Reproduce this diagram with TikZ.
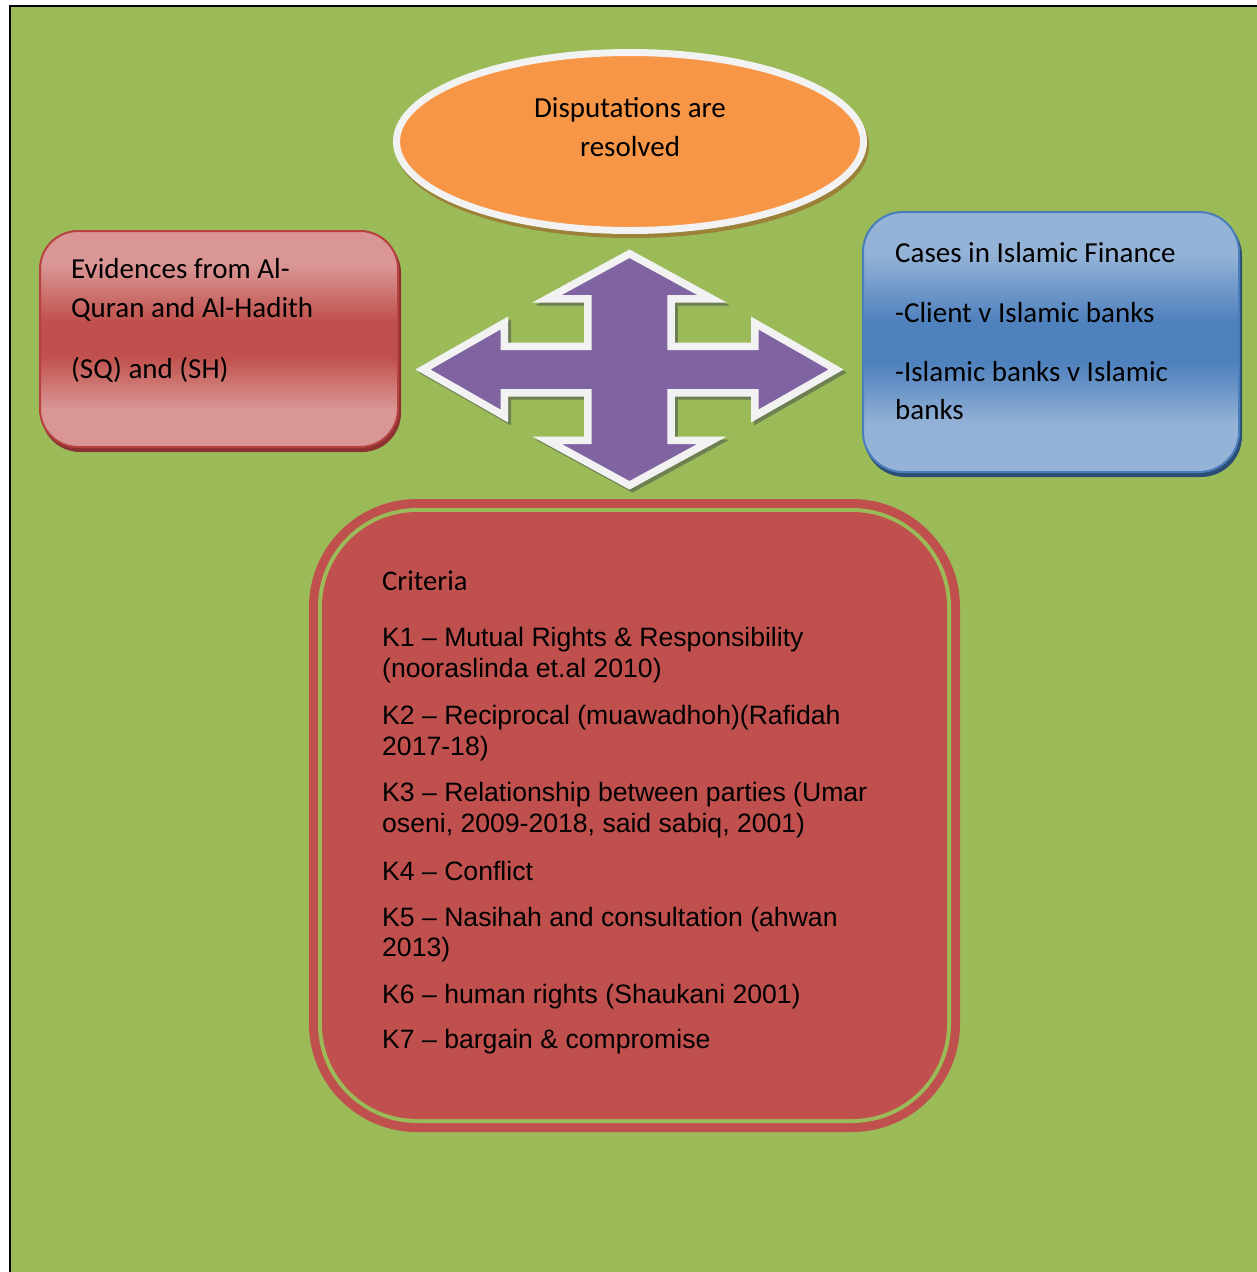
\documentclass[tikz,border=0pt]{standalone}
\usepackage{fontspec}
\setmainfont{Carlito}
\newfontfamily\arialf{Liberation Sans}
\usetikzlibrary{shapes.geometric}
\definecolor{bggreen}{HTML}{9BBB59}
\definecolor{orng}{HTML}{F79646}
\definecolor{eshadow}{HTML}{9C8238}
\definecolor{redmid}{HTML}{C0504D}
\definecolor{redlight}{HTML}{D99694}
\definecolor{redline}{HTML}{B7413E}
\definecolor{redshadow}{HTML}{8C3331}
\definecolor{bluemid}{HTML}{4F81BD}
\definecolor{bluelight}{HTML}{95B3D7}
\definecolor{blueline}{HTML}{4A7EBB}
\definecolor{blueshadow}{HTML}{2C4D75}
\definecolor{purp}{HTML}{8064A2}
\definecolor{arrwhite}{HTML}{F2F2F2}
\definecolor{arrshadow}{HTML}{6E7F52}
\pgfdeclareverticalshading{redgrad}{100bp}{color(0bp)=(redlight); color(34bp)=(redlight); color(46bp)=(redmid); color(54bp)=(redmid); color(67bp)=(redlight); color(100bp)=(redlight)}
\pgfdeclareverticalshading{bluegrad}{100bp}{color(0bp)=(bluelight); color(34bp)=(bluelight); color(46bp)=(bluemid); color(54bp)=(bluemid); color(67bp)=(bluelight); color(100bp)=(bluelight)}
\tikzset{
  calib/.style={font=\fontsize{29}{35}\selectfont, inner sep=0pt, anchor=base west, text=black},
  calibc/.style={calib, anchor=base},
  arl/.style={font=\arialf\fontsize{26.6}{31}\selectfont, inner sep=0pt, anchor=base west, text=black},
  crit/.style={font=\fontsize{28.5}{34}\selectfont, inner sep=0pt, anchor=base west, text=black},
  qarrowpath/.style={insert path={(0,-115.8) -- (82.5,-70.75) -- (41.55,-70.75) -- (41.55,-23.25) -- (125.25,-23.25) -- (125.25,-46.5) -- (206.6,0) -- (125.25,46.5) -- (125.25,23.25) -- (41.55,23.25) -- (41.55,70.75) -- (82.5,70.75) -- (0,115.8) -- (-82.5,70.75) -- (-41.55,70.75) -- (-41.55,23.25) -- (-125.25,23.25) -- (-125.25,46.5) -- (-206.6,0) -- (-125.25,-46.5) -- (-125.25,-23.25) -- (-41.55,-23.25) -- (-41.55,-70.75) -- (-82.5,-70.75) -- cycle}},
  rbox/.style={rectangle, inner sep=0pt, outer sep=0pt}
}
\begin{document}
\begin{tikzpicture}[x=1pt,y=-1pt]
\useasboundingbox (0,0) rectangle (1257,1272);
\fill[white] (0,0) rectangle (1257,1272);
\fill[bggreen] (10,6) rectangle (1257,1272);
\draw[black, line width=2pt] (10,1272) -- (10,6) -- (1257,6);

% ellipse
\node[ellipse, inner sep=0pt, minimum width=467pt, minimum height=178pt, fill=eshadow, draw=eshadow, line width=7pt] (dissh) at (632,145.5) {};
\node[ellipse, inner sep=0pt, minimum width=467pt, minimum height=178pt, fill=orng, draw=arrwhite, line width=7pt] (dis) at (630,141.5) {};
\node[calibc] (dis1) at (630,117) {Disputations are};
\node[calibc] (dis2) at (630,156) {resolved};

% left box
\node[rbox, rounded corners=38pt, minimum width=358pt, minimum height=216pt, fill=redshadow, draw=redshadow, line width=2pt] (evsh) at (221,343) {};
\node[rbox, rounded corners=38pt, minimum width=358pt, minimum height=216pt, shading=redgrad, draw=redline, line width=2pt] (ev) at (219,339) {};
\node[calib] (ev1) at (71,278) {Evidences from Al-};
\node[calib] (ev2) at (71,317) {Quran and Al-Hadith};
\node[calib] (ev3) at (71,378) {(SQ) and (SH)};

% right box
\node[rbox, rounded corners=40pt, minimum width=376pt, minimum height=260pt, fill=blueshadow, draw=blueshadow, line width=2pt] (cssh) at (1053,346) {};
\node[rbox, rounded corners=40pt, minimum width=376pt, minimum height=260pt, shading=bluegrad, draw=blueline, line width=2pt] (cs) at (1051,342) {};
\node[calib] (cs1) at (895,262) {Cases in Islamic Finance};
\node[calib] (cs2) at (895,322) {-Client v Islamic banks};
\node[calib] (cs3) at (895,381) {-Islamic banks v Islamic};
\node[calib] (cs4) at (895,419) {banks};

% quad arrow
\begin{scope}[shift={(629.5,369.5)}]
\path[fill=arrshadow, draw=arrshadow, line width=7.5pt, line join=miter, miter limit=10, shift={(3,3)}, qarrowpath];
\path[fill=purp, draw=arrwhite, line width=7.5pt, line join=miter, miter limit=10, qarrowpath];
\end{scope}

% criteria box
\node[rbox, rounded corners=108pt, minimum width=651pt, minimum height=633pt, fill=redmid] (crout) at (634.5,815.5) {};
\node[rbox, rounded corners=99pt, minimum width=633pt, minimum height=615pt, fill=bggreen] (crgap) at (634.5,815.5) {};
\node[rbox, rounded corners=95pt, minimum width=625pt, minimum height=607pt, fill=redmid] (crin) at (634.5,815.5) {};
\node[crit] (cr0) at (382,590) {Criteria};
\node[arl] (cr1) at (382,646.7) {K1 – Mutual Rights \& Responsibility};
\node[arl] (cr2) at (382,677) {(nooraslinda et.al 2010)};
\node[arl] (cr3) at (382,724.3) {K2 – Reciprocal (muawadhoh)(Rafidah};
\node[arl] (cr4) at (382,755) {2017-18)};
\node[arl] (cr5) at (382,801.7) {K3 – Relationship between parties (Umar};
\node[arl] (cr6) at (382,832.7) {oseni, 2009-2018, said sabiq, 2001)};
\node[arl] (cr7) at (382,880) {K4 – Conflict};
\node[arl] (cr8) at (382,926) {K5 – Nasihah and consultation (ahwan};
\node[arl] (cr9) at (382,956.7) {2013)};
\node[arl] (cr10) at (382,1003.3) {K6 – human rights (Shaukani 2001)};
\node[arl] (cr11) at (382,1048.3) {K7 – bargain \& compromise};
\end{tikzpicture}
\end{document}
